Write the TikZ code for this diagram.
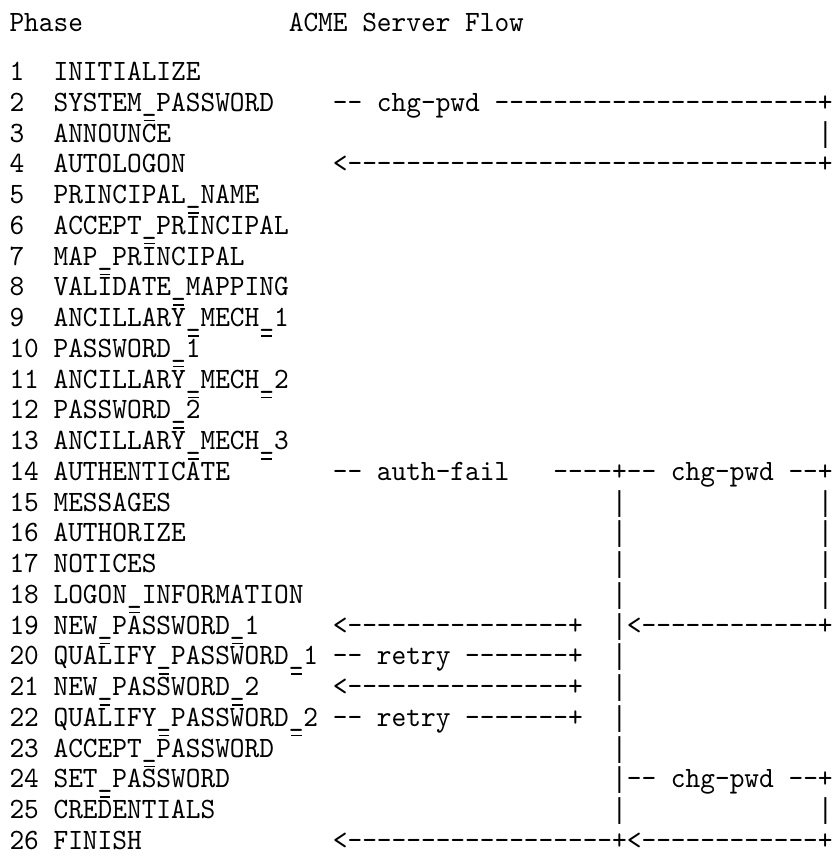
\documentclass[tikz,border=0pt]{standalone}
\usepackage{fontspec}
\newfontfamily\asciifont[FakeStretch=0.949,Ligatures=TeXOff]{lmmono10-regular.otf}
\newfontfamily\barfont[FakeStretch=0.85,Ligatures=TeXOff]{Liberation Mono}
\ExplSyntaxOn
\cs_new:Npn \dsh #1 {\prg_replicate:nn{#1}{-}}
\ExplSyntaxOff
\tikzset{
  txt/.style={inner sep=0pt, outer sep=0pt, anchor=base west,
    font=\asciifont\fontsize{29.5}{30.75}\selectfont, text=black},
  bartxt/.style={txt, font=\barfont\fontsize{28.8}{30.75}\selectfont},
  ubar/.style={line width=1.5pt, black}
}
\newcommand\cx[1]{(9.5+#1*14.7)}
\newcommand\seg[4]{\node[txt] (#1) at ({9.5+#3*14.7},{-80.5-(#2-1)*30.75}) {#4};}
\newcommand\vb[3]{\node[bartxt] (#1) at ({9.5+#3*14.7},{-80.5-(#2-1)*30.75}) {|};}
\newcommand\obar[2]{\draw[ubar] ({9.5+#2*14.7+2},{-80.5-(#1-1)*30.75+21.5}) -- ++(10.7,0);}
\begin{document}
\begin{tikzpicture}[x=1pt,y=1pt]
\useasboundingbox (0,0) rectangle (834,-857);
\fill[white] (0,0) rectangle (834,-857);
% header
\node[txt] (hphase) at (9.5,-31) {Phase};
\node[txt] (htitle) at ({9.5+19*14.7},-31) {ACME Server Flow};
% phases
\seg{n1}{1}{0}{1}   \seg{p1}{1}{3}{INITIALIZE}
\seg{n2}{2}{0}{2}   \seg{p2}{2}{3}{SYSTEM\_PASSWORD}
\seg{n3}{3}{0}{3}   \seg{p3}{3}{3}{ANNOUNCE}
\seg{n4}{4}{0}{4}   \seg{p4}{4}{3}{AUTOLOGON}
\seg{n5}{5}{0}{5}   \seg{p5}{5}{3}{PRINCIPAL\_NAME}
\seg{n6}{6}{0}{6}   \seg{p6}{6}{3}{ACCEPT\_PRINCIPAL}
\seg{n7}{7}{0}{7}   \seg{p7}{7}{3}{MAP\_PRINCIPAL}
\seg{n8}{8}{0}{8}   \seg{p8}{8}{3}{VALIDATE\_MAPPING}
\seg{n9}{9}{0}{9}   \seg{p9}{9}{3}{ANCILLARY\_MECH\_1}
\seg{n10}{10}{0}{10} \seg{p10}{10}{3}{PASSWORD\_1}
\seg{n11}{11}{0}{11} \seg{p11}{11}{3}{ANCILLARY\_MECH\_2}
\seg{n12}{12}{0}{12} \seg{p12}{12}{3}{PASSWORD\_2}
\seg{n13}{13}{0}{13} \seg{p13}{13}{3}{ANCILLARY\_MECH\_3}
\seg{n14}{14}{0}{14} \seg{p14}{14}{3}{AUTHENTICATE}
\seg{n15}{15}{0}{15} \seg{p15}{15}{3}{MESSAGES}
\seg{n16}{16}{0}{16} \seg{p16}{16}{3}{AUTHORIZE}
\seg{n17}{17}{0}{17} \seg{p17}{17}{3}{NOTICES}
\seg{n18}{18}{0}{18} \seg{p18}{18}{3}{LOGON\_INFORMATION}
\seg{n19}{19}{0}{19} \seg{p19}{19}{3}{NEW\_PASSWORD\_1}
\seg{n20}{20}{0}{20} \seg{p20}{20}{3}{QUALIFY\_PASSWORD\_1}
\seg{n21}{21}{0}{21} \seg{p21}{21}{3}{NEW\_PASSWORD\_2}
\seg{n22}{22}{0}{22} \seg{p22}{22}{3}{QUALIFY\_PASSWORD\_2}
\seg{n23}{23}{0}{23} \seg{p23}{23}{3}{ACCEPT\_PASSWORD}
\seg{n24}{24}{0}{24} \seg{p24}{24}{3}{SET\_PASSWORD}
\seg{n25}{25}{0}{25} \seg{p25}{25}{3}{CREDENTIALS}
\seg{n26}{26}{0}{26} \seg{p26}{26}{3}{FINISH}
% flow arrows (ASCII art)
\seg{a2}{2}{22}{-- chg-pwd}   \seg{b2}{2}{33}{\dsh{22}+}
\vb{c3}{3}{55}
\seg{a4}{4}{22}{<\dsh{32}+}
\seg{a14}{14}{22}{-- auth-fail} \seg{b14}{14}{37}{\dsh{4}+-- chg-pwd --+}
\vb{v15}{15}{41} \vb{w15}{15}{55}
\vb{v16}{16}{41} \vb{w16}{16}{55}
\vb{v17}{17}{41} \vb{w17}{17}{55}
\vb{v18}{18}{41} \vb{w18}{18}{55}
\seg{a19}{19}{22}{<\dsh{15}+} \vb{v19}{19}{41} \seg{b19}{19}{42}{<\dsh{12}+}
\seg{a20}{20}{22}{-- retry \dsh{7}+} \vb{v20}{20}{41}
\seg{a21}{21}{22}{<\dsh{15}+} \vb{v21}{21}{41}
\seg{a22}{22}{22}{-- retry \dsh{7}+} \vb{v22}{22}{41}
\vb{v23}{23}{41}
\vb{v24}{24}{41} \seg{b24}{24}{42}{-- chg-pwd --+}
\vb{v25}{25}{41} \vb{w25}{25}{55}
\seg{a26}{26}{22}{<\dsh{18}+<\dsh{12}+}
% underscore shadows on the following line
\obar{3}{9}
\obar{6}{12} \obar{7}{9} \obar{8}{6} \obar{9}{11}
\obar{10}{12} \obar{10}{17} \obar{11}{11}
\obar{12}{12} \obar{12}{17} \obar{13}{11}
\obar{14}{12} \obar{14}{17}
\obar{19}{8} \obar{20}{6} \obar{20}{15}
\obar{21}{10} \obar{21}{19} \obar{22}{6} \obar{22}{15}
\obar{23}{10} \obar{23}{19} \obar{24}{9} \obar{25}{6}
\end{tikzpicture}
\end{document}
